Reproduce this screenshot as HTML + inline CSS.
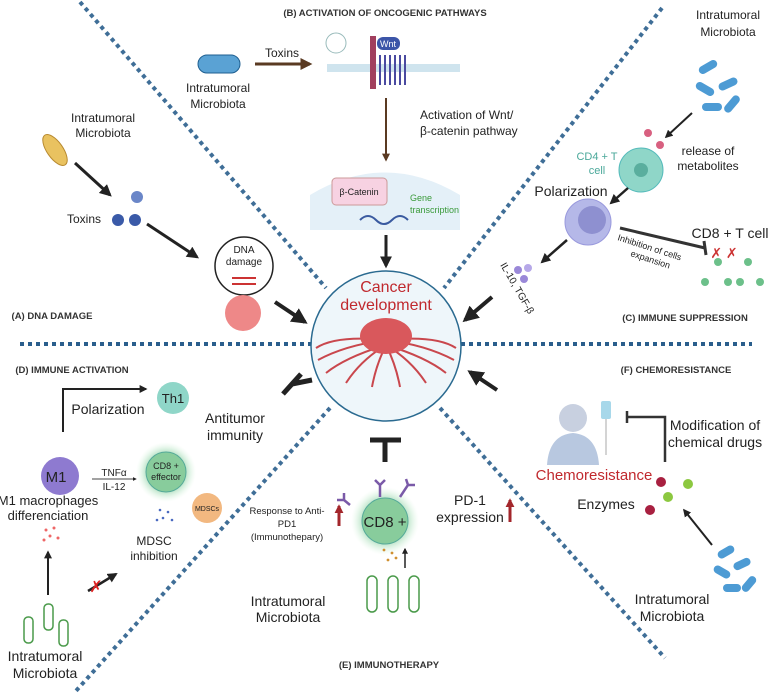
<!DOCTYPE html>
<html><head><meta charset="utf-8"><style>
body{margin:0;background:#fff}
svg{display:block}
text{font-family:"Liberation Sans",sans-serif;fill:#222}
.h{font-size:9.5px;font-weight:bold;fill:#333}
.t{font-size:12px}
</style></head><body>
<svg width="768" height="694" viewBox="0 0 768 694" xmlns="http://www.w3.org/2000/svg">
<defs>
<marker id="a" viewBox="0 0 10 10" refX="8" refY="5" markerWidth="4" markerHeight="4" orient="auto"><path d="M0,0L10,5L0,10z" fill="#222"/></marker>
<marker id="b" viewBox="0 0 10 10" refX="8" refY="5" markerWidth="4" markerHeight="4" orient="auto"><path d="M0,0L10,5L0,10z" fill="#5a3a22"/></marker>
<marker id="r" viewBox="0 0 10 10" refX="8" refY="5" markerWidth="3" markerHeight="3" orient="auto"><path d="M0,0L10,5L0,10z" fill="#a3262b"/></marker>
<radialGradient id="g"><stop offset="0.5" stop-color="#7ec89a"/><stop offset="1" stop-color="#d8f5dc" stop-opacity="0"/></radialGradient>
</defs>
<g stroke="#2a5e8c" stroke-width="4" stroke-dasharray="4 4" fill="none">
<line x1="80" y1="2" x2="326" y2="288" opacity="0.9"/>
<line x1="662" y1="8" x2="444" y2="288" opacity="0.9"/>
<line x1="330" y1="408" x2="75" y2="692" opacity="0.9"/>
<line x1="440" y1="408" x2="665" y2="658" opacity="0.9"/>
<line x1="20" y1="344" x2="311" y2="344"/>
<line x1="461" y1="344" x2="752" y2="344"/>
</g>
<circle cx="386" cy="346" r="75" fill="#eef6fa" stroke="#2a6a90" stroke-width="1.5"/>
<text x="386" y="292" text-anchor="middle" style="font-size:16px;fill:#c0292e">Cancer</text>
<text x="386" y="310" text-anchor="middle" style="font-size:16px;fill:#c0292e">development</text>
<g stroke="#c9474d" stroke-width="2" fill="none">
<path d="M386,340 q-40,5 -68,20 M386,340 q40,5 68,20 M386,345 q-25,15 -40,38 M386,345 q25,15 40,38 M386,345 q-10,20 -14,42 M386,345 q10,20 14,42 M386,340 q-50,-5 -70,8 M386,340 q50,-5 70,8 M386,345 q-40,12 -60,28 M386,345 q40,12 60,28"/></g>
<ellipse cx="386" cy="336" rx="26" ry="18" fill="#d9585c"/>
<!-- headers -->
<text class="h" x="385" y="16" text-anchor="middle">(B) ACTIVATION OF ONCOGENIC PATHWAYS</text>
<text class="h" x="52" y="319" text-anchor="middle">(A) DNA DAMAGE</text>
<text class="h" x="685" y="321" text-anchor="middle">(C) IMMUNE SUPPRESSION</text>
<text class="h" x="72" y="373" text-anchor="middle">(D) IMMUNE ACTIVATION</text>
<text class="h" x="676" y="373" text-anchor="middle">(F) CHEMORESISTANCE</text>
<text class="h" x="389" y="668" text-anchor="middle">(E) IMMUNOTHERAPY</text>
<!-- B -->
<rect x="198" y="55" width="42" height="18" rx="9" fill="#5aa2d4" stroke="#1f5f90"/>
<text class="t" x="218" y="92" text-anchor="middle">Intratumoral</text>
<text class="t" x="218" y="108" text-anchor="middle">Microbiota</text>
<line x1="255" y1="64" x2="310" y2="64" stroke="#5a3a22" stroke-width="3" marker-end="url(#b)"/>
<text class="t" x="282" y="57" text-anchor="middle">Toxins</text>
<circle cx="336" cy="43" r="10" fill="#fff" stroke="#9bb"/>
<rect x="327" y="64" width="133" height="8" fill="#cfe4ee"/>
<rect x="370" y="36" width="6" height="53" fill="#a13f5e"/>
<rect x="377" y="37" width="23" height="13" rx="6" fill="#3c55a8"/><text x="388" y="47" text-anchor="middle" style="font-size:9px;fill:#fff">Wnt</text>
<path d="M380,55 v30 M385,55 v30 M390,55 v30 M395,55 v30 M400,55 v30 M405,55 v30" stroke="#4a4aa0" stroke-width="2"/>
<line x1="386" y1="98" x2="386" y2="160" stroke="#5a3a22" stroke-width="2" marker-end="url(#b)"/>
<text class="t" x="420" y="119">Activation of Wnt/</text>
<text class="t" x="420" y="135">β-catenin pathway</text>
<path d="M310,230 V195 Q385,150 460,195 V230 z" fill="#e4f0f8"/>
<rect x="332" y="178" width="55" height="27" rx="4" fill="#f7d2e2" stroke="#c99"/>
<text x="359" y="195" text-anchor="middle" style="font-size:9px">β-Catenin</text>
<path d="M360,220 q8,-8 16,0 t16,0 t16,0" stroke="#3a5aa0" fill="none" stroke-width="2"/>
<text x="410" y="201" style="font-size:9px;fill:#3a9a3a">Gene</text>
<text x="410" y="213" style="font-size:9px;fill:#3a9a3a">transcription</text>
<line x1="386" y1="235" x2="386" y2="266" stroke="#222" stroke-width="3" marker-end="url(#a)"/>
<!-- A -->
<ellipse cx="55" cy="150" rx="8" ry="18" transform="rotate(-35 55 150)" fill="#e9c260" stroke="#b88a30"/>
<text class="t" x="103" y="122" text-anchor="middle">Intratumoral</text>
<text class="t" x="103" y="137" text-anchor="middle">Microbiota</text>
<line x1="75" y1="163" x2="110" y2="195" stroke="#222" stroke-width="3" marker-end="url(#a)"/>
<circle cx="137" cy="197" r="6" fill="#6a86c8"/><circle cx="118" cy="220" r="6" fill="#3a5aa8"/><circle cx="135" cy="220" r="6" fill="#3a5aa8"/>
<text class="t" x="84" y="223" text-anchor="middle">Toxins</text>
<line x1="147" y1="224" x2="197" y2="257" stroke="#222" stroke-width="3" marker-end="url(#a)"/>
<circle cx="244" cy="266" r="29" fill="#fff" stroke="#222" stroke-width="1.5"/>
<text x="244" y="253" text-anchor="middle" style="font-size:10px">DNA</text>
<text x="244" y="265" text-anchor="middle" style="font-size:10px">damage</text>
<path d="M232,278 h24 M232,284 h24" stroke="#c33" stroke-width="2"/>
<circle cx="243" cy="313" r="18" fill="#ee8888"/>
<line x1="275" y1="302" x2="305" y2="322" stroke="#222" stroke-width="4" marker-end="url(#a)"/>
<!-- C -->
<text class="t" x="728" y="19" text-anchor="middle">Intratumoral</text>
<text class="t" x="728" y="36" text-anchor="middle">Microbiota</text>
<g fill="#4d9bd4"><rect x="698" y="63" width="20" height="8" rx="4" transform="rotate(-30 708 67)"/><rect x="718" y="80" width="20" height="8" rx="4" transform="rotate(-25 728 84)"/><rect x="695" y="85" width="20" height="8" rx="4" transform="rotate(30 705 89)"/><rect x="702" y="103" width="20" height="8" rx="4"/><rect x="722" y="100" width="20" height="8" rx="4" transform="rotate(-50 732 104)"/></g>
<line x1="692" y1="113" x2="666" y2="137" stroke="#222" stroke-width="2" marker-end="url(#a)"/>
<circle cx="648" cy="133" r="4" fill="#d86080"/><circle cx="660" cy="145" r="4" fill="#d86080"/>
<text class="t" x="708" y="155" text-anchor="middle">release of</text>
<text class="t" x="708" y="170" text-anchor="middle">metabolites</text>
<text x="597" y="160" text-anchor="middle" style="font-size:11px;fill:#4aa89a">CD4 + T</text>
<text x="597" y="174" text-anchor="middle" style="font-size:11px;fill:#4aa89a">cell</text>
<circle cx="641" cy="170" r="22" fill="#8fd6c8" stroke="#5bb"/><circle cx="641" cy="170" r="7" fill="#5aae9e"/>
<text x="571" y="196" text-anchor="middle" style="font-size:14px">Polarization</text>
<line x1="628" y1="188" x2="611" y2="203" stroke="#222" stroke-width="2.5" marker-end="url(#a)"/>
<circle cx="588" cy="222" r="23" fill="#b5b8e8" stroke="#99d"/><circle cx="592" cy="220" r="14" fill="#8e90d0"/>
<line x1="567" y1="240" x2="542" y2="262" stroke="#222" stroke-width="2.5" marker-end="url(#a)"/>
<circle cx="518" cy="270" r="4" fill="#9a88d8"/><circle cx="528" cy="268" r="4" fill="#b6a8e8"/><circle cx="524" cy="279" r="4" fill="#9a88d8"/>
<text x="500" y="265" transform="rotate(60 500 265)" style="font-size:10px">IL-10, TGF-β</text>
<line x1="620" y1="228" x2="705" y2="248" stroke="#333" stroke-width="3"/>
<line x1="704" y1="241" x2="706" y2="255" stroke="#333" stroke-width="3"/>
<text x="617" y="240" transform="rotate(18 617 240)" style="font-size:9px">Inhibition of cells</text>
<text x="630" y="256" transform="rotate(18 630 256)" style="font-size:9px">expansion</text>
<text class="t" x="730" y="238" text-anchor="middle" style="font-size:14px">CD8 + T cell</text>
<g fill="#6cc08a"><circle cx="718" cy="262" r="4"/><circle cx="748" cy="262" r="4"/><circle cx="705" cy="282" r="4"/><circle cx="728" cy="282" r="4"/><circle cx="740" cy="282" r="4"/><circle cx="760" cy="282" r="4"/></g>
<text x="724" y="258" text-anchor="middle" style="font-size:14px;fill:#c33">✗ ✗</text>
<line x1="492" y1="297" x2="465" y2="320" stroke="#222" stroke-width="4" marker-end="url(#a)"/>
<!-- D -->
<path d="M63,432 V389 H146" stroke="#222" stroke-width="2" fill="none" marker-end="url(#a)"/>
<text class="t" x="108" y="414" text-anchor="middle" style="font-size:14px">Polarization</text>
<circle cx="173" cy="398" r="16" fill="#8fd6c8"/><text x="173" y="403" text-anchor="middle" style="font-size:13px">Th1</text>
<text class="t" x="235" y="423" text-anchor="middle" style="font-size:14px">Antitumor</text>
<text class="t" x="235" y="440" text-anchor="middle" style="font-size:14px">immunity</text>
<path d="M283,394 L301,374 M292,384 L312,380" stroke="#222" stroke-width="5"/>
<circle cx="60" cy="476" r="19" fill="#8e7ad0"/><text x="56" y="482" text-anchor="middle" style="font-size:15px">M1</text>
<text class="t" x="48" y="505" text-anchor="middle" style="font-size:13px">M1 macrophages</text>
<text class="t" x="48" y="520" text-anchor="middle" style="font-size:13px">differenciation</text>
<g fill="#e66"><circle cx="46" cy="530" r="1.5"/><circle cx="54" cy="528" r="1.5"/><circle cx="50" cy="536" r="1.5"/><circle cx="58" cy="538" r="1.5"/><circle cx="44" cy="540" r="1.5"/></g>
<line x1="48" y1="595" x2="48" y2="552" stroke="#222" stroke-width="2" marker-end="url(#a)"/>
<text x="114" y="476" text-anchor="middle" style="font-size:10px">TNFα</text>
<line x1="92" y1="479" x2="136" y2="479" stroke="#444" marker-end="url(#a)"/>
<text x="114" y="490" text-anchor="middle" style="font-size:10px">IL-12</text>
<circle cx="166" cy="472" r="30" fill="url(#g)"/><circle cx="166" cy="472" r="20" fill="#88cc9c" stroke="#5a9"/>
<text x="166" y="469" text-anchor="middle" style="font-size:9px">CD8 +</text><text x="166" y="480" text-anchor="middle" style="font-size:9px">effector</text>
<circle cx="207" cy="508" r="15" fill="#f2b880"/><text x="207" y="511" text-anchor="middle" style="font-size:7px">MDSCs</text>
<g fill="#4a6ac0"><circle cx="160" cy="510" r="1.3"/><circle cx="168" cy="512" r="1.3"/><circle cx="163" cy="518" r="1.3"/><circle cx="172" cy="520" r="1.3"/><circle cx="157" cy="520" r="1.3"/></g>
<text class="t" x="154" y="545" text-anchor="middle">MDSC</text><text class="t" x="154" y="560" text-anchor="middle">inhibition</text>
<line x1="88" y1="591" x2="116" y2="574" stroke="#222" stroke-width="2.5" marker-end="url(#a)"/>
<text x="96" y="592" text-anchor="middle" style="font-size:16px;fill:#d22">✗</text>
<g fill="none" stroke="#4a9a4a" stroke-width="1.5"><rect x="24" y="617" width="9" height="26" rx="4"/><rect x="44" y="604" width="9" height="26" rx="4"/><rect x="59" y="620" width="9" height="26" rx="4"/></g>
<text class="t" x="45" y="661" text-anchor="middle" style="font-size:14px">Intratumoral</text>
<text class="t" x="45" y="678" text-anchor="middle" style="font-size:14px">Microbiota</text>
<!-- E -->
<path d="M370,440 H401 M385,440 V462" stroke="#222" stroke-width="5"/>
<circle cx="385" cy="521" r="34" fill="url(#g)"/><circle cx="385" cy="521" r="23" fill="#88cc9c" stroke="#5a9"/>
<text x="385" y="527" text-anchor="middle" style="font-size:15px">CD8 +</text>
<g stroke="#7a5aa8" stroke-width="2.5" fill="none"><path d="M380,497 v-12 l-5,-5 M380,485 l5,-5"/><path d="M350,505 l-6,-5 v-7 M344,500 h-7"/><path d="M400,497 l8,-12 l-2,-6 M408,485 h7"/></g>
<text x="287" y="514" text-anchor="middle" style="font-size:9.5px">Response to Anti-</text>
<text x="287" y="527" text-anchor="middle" style="font-size:9.5px">PD1</text>
<text x="287" y="540" text-anchor="middle" style="font-size:9.5px">(Immunothepary)</text>
<line x1="339" y1="526" x2="339" y2="506" stroke="#a3262b" stroke-width="3" marker-end="url(#r)"/>
<text class="t" x="470" y="505" text-anchor="middle" style="font-size:14px">PD-1</text>
<text class="t" x="470" y="522" text-anchor="middle" style="font-size:14px">expression</text>
<line x1="510" y1="522" x2="510" y2="500" stroke="#a3262b" stroke-width="3" marker-end="url(#r)"/>
<g fill="#d09030"><circle cx="384" cy="550" r="1.4"/><circle cx="392" cy="553" r="1.4"/><circle cx="388" cy="560" r="1.4"/><circle cx="396" cy="558" r="1.4"/></g>
<line x1="405" y1="568" x2="405" y2="549" stroke="#222" stroke-width="1.5" marker-end="url(#a)"/>
<g fill="none" stroke="#4a9a4a" stroke-width="1.5"><rect x="367" y="576" width="10" height="36" rx="5"/><rect x="388" y="576" width="10" height="36" rx="5"/><rect x="409" y="576" width="10" height="36" rx="5"/></g>
<text class="t" x="288" y="606" text-anchor="middle" style="font-size:14px">Intratumoral</text>
<text class="t" x="288" y="622" text-anchor="middle" style="font-size:14px">Microbiota</text>
<!-- F -->
<line x1="497" y1="390" x2="470" y2="372" stroke="#222" stroke-width="4" marker-end="url(#a)"/>
<circle cx="573" cy="418" r="14" fill="#c8d0e0"/>
<path d="M547,465 q2,-30 26,-32 q24,2 26,32 z" fill="#b8c8e0"/>
<rect x="601" y="401" width="10" height="18" rx="2" fill="#a8d8ea"/>
<line x1="606" y1="419" x2="606" y2="455" stroke="#aaa"/>
<path d="M665,462 V417 H627 M627,411 V423" stroke="#333" stroke-width="2.5" fill="none"/>
<text class="t" x="715" y="430" text-anchor="middle" style="font-size:14px">Modification of</text>
<text class="t" x="715" y="447" text-anchor="middle" style="font-size:14px">chemical drugs</text>
<text x="594" y="480" text-anchor="middle" style="font-size:15px;fill:#c0292e">Chemoresistance</text>
<circle cx="661" cy="482" r="5" fill="#a82040"/><circle cx="688" cy="484" r="5" fill="#8cc840"/><circle cx="668" cy="497" r="5" fill="#8cc840"/><circle cx="650" cy="510" r="5" fill="#a82040"/>
<text class="t" x="606" y="509" text-anchor="middle" style="font-size:14px">Enzymes</text>
<line x1="712" y1="545" x2="684" y2="510" stroke="#222" stroke-width="2" marker-end="url(#a)"/>
<g fill="#4d9bd4"><rect x="717" y="548" width="18" height="8" rx="4" transform="rotate(-30 726 552)"/><rect x="733" y="560" width="18" height="8" rx="4" transform="rotate(-25 742 564)"/><rect x="713" y="568" width="18" height="8" rx="4" transform="rotate(30 722 572)"/><rect x="723" y="584" width="18" height="8" rx="4"/><rect x="740" y="580" width="18" height="8" rx="4" transform="rotate(-50 749 584)"/></g>
<text class="t" x="672" y="604" text-anchor="middle" style="font-size:14px">Intratumoral</text>
<text class="t" x="672" y="621" text-anchor="middle" style="font-size:14px">Microbiota</text>
</svg>
</body></html>
